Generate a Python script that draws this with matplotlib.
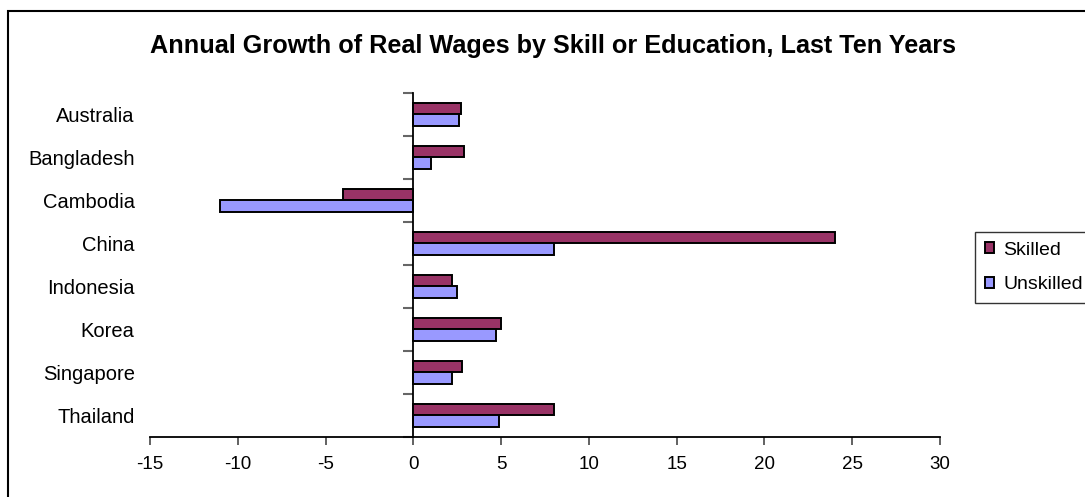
import numpy as np
import matplotlib
matplotlib.use('Agg')
import matplotlib.pyplot as plt
from matplotlib.patches import Rectangle
from matplotlib.ticker import FixedLocator

plt.rcParams['font.family'] = ['Liberation Sans', 'DejaVu Sans']

countries = ['Australia', 'Bangladesh', 'Cambodia', 'China',
             'Indonesia', 'Korea', 'Singapore', 'Thailand']
skilled = [2.7, 2.9, -4.0, 24.0, 2.2, 5.0, 2.8, 8.0]
unskilled = [2.6, 1.0, -11.0, 8.0, 2.5, 4.7, 2.2, 4.9]
xticks = [-15, -10, -5, 0, 5, 10, 15, 20, 25, 30]

fig = plt.figure(figsize=(10.85, 4.97), dpi=100)
ax = fig.add_axes([150 / 1085, 60 / 497, 790 / 1085, 344.3 / 497])

y = np.arange(len(countries))
h = 0.27
ax.barh(y - h / 2, skilled, height=h, color='#993366', edgecolor='black',
        linewidth=1.4, label='Skilled', zorder=3)
ax.barh(y + h / 2, unskilled, height=h, color='#9999FF', edgecolor='black',
        linewidth=1.4, label='Unskilled', zorder=3)

ax.set_xlim(-15, 30)
ax.set_ylim(len(countries) - 0.5, -0.5)
ax.set_xticks(xticks)
ax.set_xticklabels([str(v) for v in xticks])
ax.set_yticks(y)
ax.set_yticklabels(countries)

# zero line with category boundary ticks pointing left
ax.spines['top'].set_visible(False)
ax.spines['left'].set_visible(False)
ax.spines['right'].set_position(('data', 0))
ax.spines['right'].set_linewidth(1.3)
ax.spines['right'].set_zorder(4)
ax.spines['bottom'].set_linewidth(1.3)
ax.yaxis.set_minor_locator(FixedLocator(np.arange(-0.5, len(countries), 1)))
ax.tick_params(axis='y', which='major', length=0, pad=11, labelsize=14.5)
ax.tick_params(axis='y', which='minor', left=False, right=True,
               direction='in', length=7, width=1.5, color='#666666')
ax.tick_params(axis='x', length=6, width=1.3, color='#555555',
               labelsize=13.5, pad=8)

fig.text(553 / 1085, 1 - 53 / 497,
         'Annual Growth of Real Wages by Skill or Education, Last Ten Years',
         ha='center', va='baseline', fontsize=18.2, fontweight='bold')

leg = fig.legend(loc='upper left', bbox_to_anchor=(975 / 1085, 1 - 232 / 497),
                 frameon=True, fancybox=False, fontsize=14,
                 handlelength=0.5, handleheight=0.5, handletextpad=0.45,
                 borderpad=0.5, labelspacing=0.9, borderaxespad=0)
leg.get_frame().set_edgecolor('black')
leg.get_frame().set_linewidth(1.0)

fig.patches.append(Rectangle((8 / 1085, -0.1), 1.2, 1.1 - 11 / 497,
                             transform=fig.transFigure, fill=False,
                             edgecolor='black', linewidth=1.5))

fig.savefig('out.png', dpi=100)
